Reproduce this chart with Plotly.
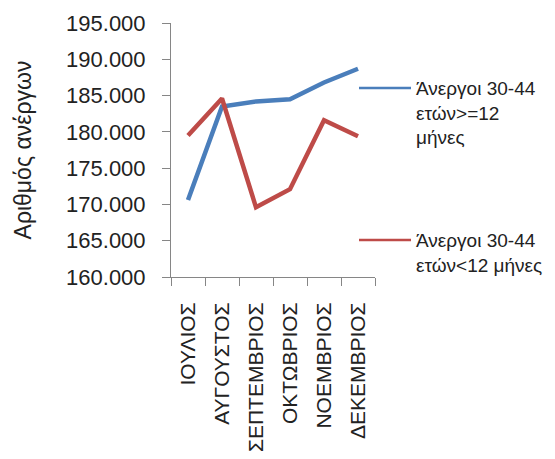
import plotly.graph_objects as go

months = ["ΙΟΥΛΙΟΣ", "ΑΥΓΟΥΣΤΟΣ", "ΣΕΠΤΕΜΒΡΙΟΣ", "ΟΚΤΩΒΡΙΟΣ", "ΝΟΕΜΒΡΙΟΣ", "ΔΕΚΕΜΒΡΙΟΣ"]
long_term = [170600, 183500, 184200, 184500, 186800, 188700]
short_term = [179500, 184600, 169600, 172100, 181600, 179400]
name_long = "Άνεργοι 30-44<br>ετών>=12<br>μήνες"
name_short = "Άνεργοι 30-44<br>ετών<12 μήνες"
y_ticks = [160000, 165000, 170000, 175000, 180000, 185000, 190000, 195000]

BLUE = "#4a7ebb"
RED = "#be4b48"
AX = "#868686"
FONT = "Liberation Sans"
TXT = "#222222"

fig = go.Figure()
fig.add_trace(go.Scatter(x=months, y=long_term, mode="lines", name=name_long,
                         line=dict(color=BLUE, width=4.5)))
fig.add_trace(go.Scatter(x=months, y=short_term, mode="lines", name=name_short,
                         line=dict(color=RED, width=4.5)))

OFF = 8  # page body margin
W, H = 555, 459
L, T = 171 - OFF, 23 - OFF
PW, PH = 204, 254
R = W - L - PW
B = H - T - PH
fig.update_layout(
    width=W, height=H,
    margin=dict(l=L, r=R, t=T, b=B, autoexpand=False),
    paper_bgcolor="white", plot_bgcolor="white",
    showlegend=False,
    separators=",.",
    font=dict(family=FONT, color=TXT),
)
fig.update_yaxes(
    range=[160000, 195000], tickvals=y_ticks, tickformat=",d",
    showgrid=False, zeroline=False, automargin=False,
    showline=True, linecolor=AX, linewidth=1,
    ticks="outside", ticklen=8, tickcolor=AX, ticklabelstandoff=12,
    tickfont=dict(size=22, family=FONT, color=TXT),
    title=dict(text="Αριθμός ανέργων", font=dict(size=23, family=FONT, color=TXT), standoff=28),
)
fig.update_xaxes(
    tickangle=-90, showgrid=False, zeroline=False, automargin=False,
    showline=True, linecolor=AX, linewidth=1,
    ticks="outside", ticklen=8, tickcolor=AX, tickson="boundaries",
    ticklabelstandoff=16,
    tickfont=dict(size=21, family=FONT, color=TXT),
    range=[-0.5, 5.5],
)

def px_x(x):
    return (x - OFF - L) / PW
def px_y(y):
    return (H - B - (y - OFF)) / PH

for color, ly, text in [(BLUE, 88, name_long), (RED, 240, name_short)]:
    fig.add_shape(type="line", xref="paper", yref="paper",
                  x0=px_x(359), x1=px_x(411), y0=px_y(ly), y1=px_y(ly),
                  line=dict(color=color, width=2.5))
    fig.add_annotation(xref="paper", yref="paper", x=px_x(414), y=px_y(ly - 12),
                       xanchor="left", yanchor="top", align="left", showarrow=False,
                       text=text, font=dict(size=19, family=FONT, color=TXT))

fig.write_html("out.html")
